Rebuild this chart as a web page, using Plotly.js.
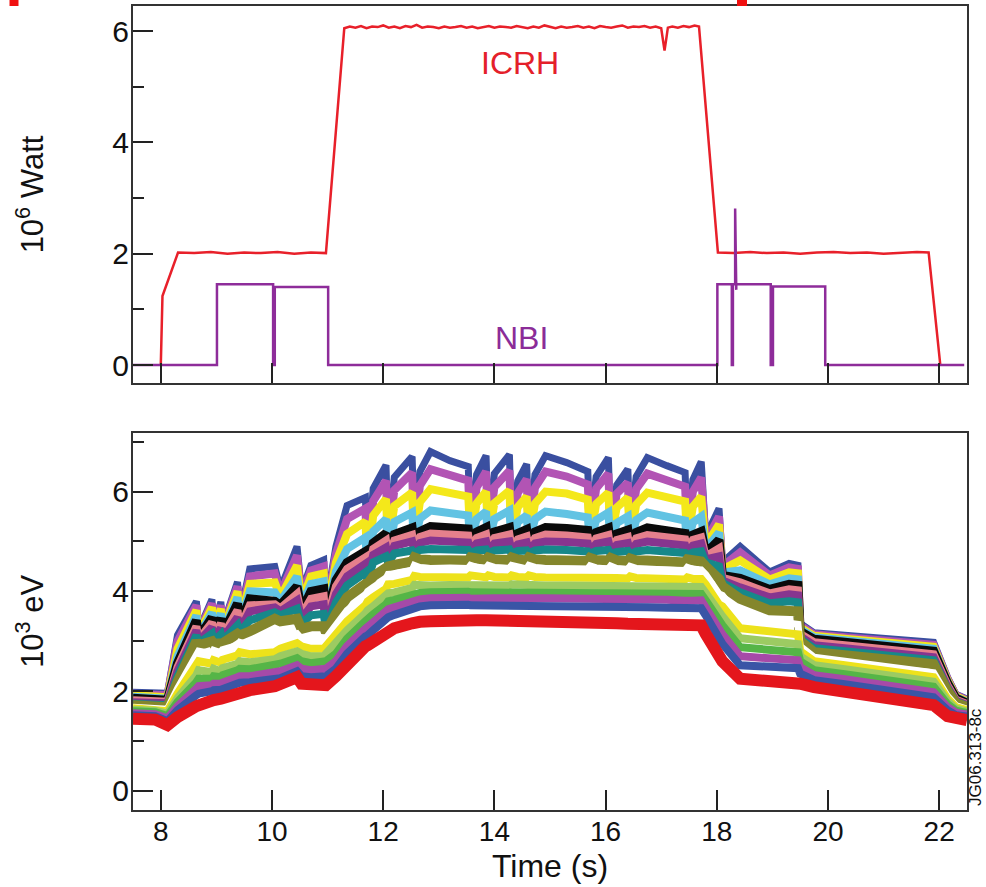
<!DOCTYPE html>
<html>
<head>
<meta charset="utf-8">
<script src="https://cdn.plot.ly/plotly-3.0.1.min.js"></script>
<style>html,body{margin:0;padding:0;background:#fff;}#chart{width:986px;height:887px;}</style>
</head>
<body>
<div id="chart"></div>
<script>
// ---------- Top panel: heating power (10^6 W) ----------
const ICRH_t = [8.00,8.03,8.31,8.6,8.9,9.2,9.5,9.8,10.1,10.4,10.7,10.97,
  11.3,11.4,11.5,11.6,11.7,11.8,11.9,12.0,12.1,12.2,
  12.3,12.4,12.5,12.6,12.7,12.8,12.9,13.0,13.1,13.2,
  13.3,13.4,13.5,13.6,13.7,13.8,13.9,14.0,14.1,14.2,
  14.3,14.4,14.5,14.6,14.7,14.8,14.9,15.0,15.1,15.2,
  15.3,15.4,15.5,15.6,15.7,15.8,15.9,16.0,16.1,16.2,
  16.3,16.4,16.5,16.6,16.7,16.8,16.9,17.0,
  17.03,17.06,17.09,17.12,
  17.2,17.3,17.4,17.5,17.6,17.68,
  18.02,18.3,18.6,18.9,19.2,19.5,19.8,20.1,20.4,20.7,21.0,21.3,21.6,
  21.81,22.02];
const ICRH_v = [0,1.24,2.02,2.01,2.03,2.00,2.02,2.01,2.03,2.00,2.02,2.01,
  6.05,6.08,6.06,6.09,6.05,6.08,6.07,6.10,6.06,6.08,
  6.05,6.09,6.07,6.11,6.06,6.08,6.07,6.05,6.08,6.06,
  6.07,6.09,6.06,6.08,6.05,6.07,6.09,6.06,6.08,6.07,
  6.06,6.09,6.07,6.05,6.08,6.06,6.10,6.07,6.05,6.08,
  6.06,6.07,6.09,6.06,6.08,6.05,6.09,6.07,6.06,6.08,
  6.10,6.06,6.08,6.07,6.09,6.06,6.08,6.05,
  5.80,5.65,5.85,6.06,
  6.08,6.06,6.09,6.07,6.10,6.08,
  2.02,2.01,2.03,2.01,2.02,2.00,2.02,2.03,2.01,2.02,2.00,2.02,2.03,
  2.02,0];

const NBI_t = [7.5,9.01,9.01,10.02,10.02,10.05,10.05,11.01,11.01,18.01,18.01,18.27,18.27,18.29,18.29,18.33,18.33,18.35,18.35,18.97,18.97,19.01,19.01,19.95,19.95,22.45];
const NBI_v = [0,0,1.45,1.45,0,0,1.40,1.40,0,0,1.45,1.45,0,0,1.45,1.45,2.81,1.35,1.45,1.45,0,0,1.41,1.41,0,0];

// ---------- Bottom panel: electron temperature channels (10^3 eV) ----------
const T = [7.5,7.9,8.12,8.3,8.64,8.68,8.92,8.95,9.08,9.11,
  9.38,9.42,9.6,10.05,10.15,10.45,10.53,10.7,10.93,10.97,
  11.15,11.35,11.68,11.72,11.82,12.05,12.09,12.2,12.52,12.56,
  12.66,12.85,13.2,13.53,13.57,13.68,13.85,13.89,14.0,14.27,
  14.31,14.42,14.58,14.62,14.73,14.92,15.3,15.68,15.72,15.83,
  16.05,16.09,16.2,16.4,16.44,16.55,16.75,17.1,17.43,17.47,
  17.57,17.72,17.8,18.04,18.1,18.42,18.95,19.3,19.46,19.5,
  19.75,20.3,20.9,21.5,21.9,22.15,22.3,22.5];

const te_red = [1.45,1.43,1.32,1.48,1.70,1.72,1.80,1.82,1.85,1.86,
  1.98,2.00,2.02,2.10,2.15,2.28,2.15,2.15,2.12,2.12,
  2.30,2.55,2.90,2.92,3.00,3.20,3.22,3.26,3.36,3.38,
  3.39,3.40,3.43,3.42,3.42,3.42,3.42,3.42,3.42,3.42,
  3.42,3.42,3.42,3.42,3.42,3.42,3.40,3.38,3.38,3.37,
  3.36,3.36,3.36,3.35,3.35,3.35,3.34,3.33,3.30,3.30,
  3.31,3.32,3.15,2.70,2.60,2.25,2.22,2.20,2.18,2.15,
  2.08,2.00,1.90,1.80,1.72,1.50,1.44,1.42];
const te_blue = [1.52,1.50,1.40,1.62,1.92,1.95,2.00,2.02,2.03,2.04,
  2.15,2.17,2.18,2.22,2.26,2.40,2.30,2.28,2.28,2.30,
  2.45,2.75,3.10,3.12,3.22,3.45,3.48,3.53,3.66,3.68,
  3.70,3.72,3.74,3.73,3.72,3.72,3.72,3.72,3.72,3.72,
  3.72,3.72,3.72,3.72,3.72,3.72,3.72,3.70,3.70,3.70,
  3.70,3.70,3.69,3.68,3.68,3.68,3.68,3.67,3.65,3.65,
  3.65,3.66,3.52,3.02,2.95,2.52,2.50,2.48,2.46,2.35,
  2.22,2.14,2.05,1.96,1.88,1.62,1.52,1.49];
const te_magenta = [1.56,1.54,1.45,1.70,2.05,2.10,2.12,2.15,2.15,2.17,
  2.28,2.30,2.30,2.36,2.40,2.52,2.45,2.42,2.42,2.45,
  2.60,2.90,3.25,3.28,3.38,3.60,3.64,3.68,3.80,3.83,
  3.84,3.86,3.88,3.87,3.85,3.86,3.86,3.85,3.86,3.86,
  3.85,3.86,3.86,3.85,3.86,3.86,3.86,3.85,3.84,3.85,
  3.85,3.84,3.84,3.84,3.83,3.84,3.84,3.83,3.81,3.80,
  3.81,3.82,3.68,3.20,3.14,2.70,2.66,2.64,2.62,2.48,
  2.32,2.24,2.15,2.06,1.98,1.68,1.57,1.53];
const te_green = [1.60,1.58,1.50,1.78,2.18,2.25,2.25,2.30,2.28,2.32,
  2.42,2.45,2.44,2.50,2.55,2.66,2.60,2.56,2.56,2.60,
  2.75,3.05,3.40,3.45,3.54,3.74,3.80,3.83,3.93,3.97,
  3.97,3.98,4.00,3.99,3.98,3.98,3.98,3.98,3.98,3.98,
  3.98,3.98,3.98,3.98,3.98,3.98,3.98,3.97,3.97,3.97,
  3.97,3.97,3.96,3.96,3.96,3.96,3.96,3.95,3.94,3.94,
  3.94,3.95,3.82,3.38,3.32,2.88,2.82,2.80,2.78,2.60,
  2.42,2.34,2.25,2.17,2.09,1.74,1.61,1.56];
const te_lightgreen = [1.63,1.61,1.55,1.86,2.32,2.42,2.38,2.45,2.40,2.46,
  2.55,2.60,2.58,2.64,2.70,2.80,2.75,2.70,2.70,2.75,
  2.92,3.22,3.56,3.62,3.70,3.88,3.96,3.98,4.07,4.13,
  4.12,4.12,4.13,4.12,4.14,4.13,4.12,4.14,4.13,4.12,
  4.14,4.13,4.12,4.14,4.13,4.12,4.12,4.11,4.13,4.12,
  4.11,4.13,4.11,4.10,4.12,4.11,4.10,4.09,4.08,4.10,
  4.09,4.09,3.97,3.55,3.50,3.06,2.98,2.96,2.94,2.70,
  2.52,2.44,2.35,2.27,2.19,1.80,1.65,1.59];
const te_yellow = [1.66,1.64,1.60,1.95,2.48,2.60,2.55,2.62,2.57,2.63,
  2.72,2.78,2.74,2.78,2.85,2.96,2.90,2.85,2.85,2.90,
  3.10,3.40,3.72,3.80,3.88,4.05,4.14,4.15,4.23,4.31,
  4.29,4.28,4.29,4.28,4.32,4.29,4.28,4.32,4.29,4.28,
  4.32,4.29,4.28,4.32,4.29,4.28,4.28,4.27,4.31,4.28,
  4.27,4.31,4.27,4.26,4.30,4.27,4.26,4.25,4.24,4.28,
  4.25,4.25,4.14,3.74,3.70,3.26,3.18,3.16,3.14,2.80,
  2.60,2.52,2.44,2.36,2.28,1.85,1.68,1.62];
const te_white = [1.68,1.66,1.64,2.05,2.70,2.80,2.75,2.82,2.77,2.83,
  2.92,2.98,2.92,3.00,3.05,3.15,3.05,3.02,3.02,3.06,
  3.30,3.62,3.92,4.00,4.08,4.25,4.34,4.35,4.42,4.52,
  4.48,4.46,4.47,4.46,4.52,4.48,4.46,4.52,4.48,4.46,
  4.52,4.48,4.45,4.52,4.48,4.46,4.46,4.45,4.51,4.47,
  4.45,4.51,4.46,4.44,4.50,4.46,4.44,4.43,4.42,4.48,
  4.44,4.43,4.34,3.95,3.92,3.46,3.38,3.36,3.34,2.90,
  2.68,2.60,2.52,2.45,2.37,1.90,1.71,1.64];
const te_olive = [1.72,1.70,1.68,2.18,3.00,2.92,3.00,2.95,3.00,2.96,
  3.15,3.12,3.20,3.45,3.40,3.45,3.25,3.30,3.30,3.18,
  3.55,3.88,4.15,4.15,4.30,4.48,4.50,4.53,4.60,4.68,
  4.64,4.63,4.63,4.62,4.68,4.64,4.63,4.68,4.64,4.63,
  4.68,4.64,4.62,4.68,4.64,4.63,4.62,4.61,4.67,4.63,
  4.62,4.67,4.62,4.61,4.66,4.62,4.62,4.60,4.58,4.64,
  4.61,4.60,4.50,4.25,4.10,3.85,3.62,3.62,3.60,3.00,
  2.78,2.72,2.66,2.60,2.54,2.00,1.76,1.68];
const te_teal = [1.75,1.73,1.72,2.30,3.12,2.96,3.15,3.00,3.14,3.01,
  3.32,3.18,3.42,3.58,3.52,3.65,3.35,3.52,3.55,3.24,
  3.78,4.12,4.38,4.22,4.58,4.70,4.58,4.76,4.82,4.76,
  4.83,4.85,4.84,4.83,4.76,4.82,4.84,4.76,4.82,4.84,
  4.76,4.81,4.82,4.76,4.82,4.84,4.83,4.80,4.75,4.81,
  4.83,4.75,4.79,4.81,4.74,4.80,4.83,4.80,4.77,4.72,
  4.78,4.80,4.58,4.50,4.17,3.98,3.76,3.80,3.78,3.05,
  2.86,2.80,2.74,2.68,2.62,2.05,1.79,1.70];
const te_purple = [1.78,1.76,1.76,2.40,3.22,3.00,3.28,3.04,3.26,3.05,
  3.48,3.22,3.60,3.68,3.60,3.82,3.45,3.70,3.74,3.30,
  3.95,4.30,4.55,4.28,4.73,4.88,4.64,4.91,5.00,4.82,
  4.97,5.02,5.00,4.98,4.82,4.96,5.00,4.82,4.96,5.00,
  4.82,4.94,4.98,4.82,4.96,5.00,4.99,4.96,4.81,4.95,
  5.00,4.81,4.93,4.97,4.80,4.95,5.00,4.96,4.92,4.78,
  4.92,4.96,4.64,4.70,4.22,4.08,3.88,3.94,3.92,3.10,
  2.92,2.86,2.80,2.74,2.68,2.08,1.81,1.72];
const te_pink = [1.82,1.80,1.79,2.48,3.30,3.03,3.38,3.08,3.36,3.09,
  3.62,3.26,3.72,3.74,3.66,3.95,3.52,3.85,3.90,3.36,
  4.10,4.45,4.68,4.34,4.85,5.02,4.70,5.02,5.13,4.87,
  5.09,5.16,5.14,5.12,4.87,5.07,5.14,4.87,5.07,5.14,
  4.87,5.04,5.10,4.87,5.07,5.14,5.12,5.08,4.86,5.06,
  5.13,4.86,5.03,5.09,4.85,5.06,5.13,5.09,5.04,4.83,
  5.03,5.08,4.70,4.86,4.27,4.18,3.96,4.04,4.02,3.15,
  2.98,2.92,2.86,2.80,2.74,2.12,1.83,1.74];
const te_black = [1.86,1.84,1.82,2.56,3.42,3.06,3.48,3.12,3.46,3.13,
  3.76,3.30,3.85,3.80,3.72,4.10,3.60,4.00,4.05,3.42,
  4.22,4.58,4.80,4.40,4.97,5.16,4.76,5.14,5.27,4.92,
  5.20,5.30,5.28,5.25,4.92,5.19,5.28,4.92,5.19,5.28,
  4.92,5.16,5.24,4.92,5.19,5.28,5.26,5.22,4.91,5.18,
  5.27,4.91,5.15,5.23,4.90,5.18,5.27,5.22,5.16,4.88,
  5.13,5.20,4.76,5.03,4.32,4.26,4.04,4.14,4.12,3.20,
  3.04,2.98,2.92,2.86,2.80,2.16,1.86,1.76];
const te_lightblue = [1.89,1.87,1.85,2.70,3.52,3.10,3.58,3.16,3.56,3.17,
  3.88,3.35,4.00,3.98,3.80,4.30,3.70,4.15,4.20,3.48,
  4.40,4.85,5.08,4.46,5.20,5.45,4.82,5.39,5.58,4.98,
  5.46,5.62,5.58,5.52,4.98,5.45,5.60,4.98,5.45,5.62,
  4.98,5.39,5.52,4.98,5.45,5.60,5.55,5.48,4.97,5.43,
  5.58,4.97,5.37,5.50,4.96,5.43,5.58,5.50,5.42,4.94,
  5.38,5.50,4.84,5.18,4.38,4.42,4.14,4.26,4.24,3.24,
  3.08,3.02,2.96,2.90,2.85,2.19,1.88,1.78];
const te_yellow2 = [1.92,1.90,1.88,2.85,3.62,3.14,3.68,3.20,3.65,3.21,
  4.00,3.40,4.15,4.18,3.88,4.52,3.80,4.30,4.36,3.55,
  4.58,5.15,5.40,4.52,5.52,5.85,4.90,5.71,5.98,5.05,
  5.79,6.05,5.98,5.90,5.05,5.76,6.00,5.05,5.77,6.02,
  5.05,5.69,5.90,5.05,5.76,6.00,5.96,5.84,5.04,5.75,
  5.98,5.04,5.68,5.88,5.03,5.74,5.98,5.90,5.80,5.01,
  5.70,5.90,4.92,5.34,4.44,4.62,4.24,4.38,4.36,3.28,
  3.11,3.05,2.99,2.93,2.89,2.22,1.90,1.80];
const te_magenta2 = [1.95,1.93,1.92,3.00,3.72,3.18,3.76,3.24,3.72,3.25,
  4.10,3.45,4.30,4.36,3.96,4.72,3.90,4.42,4.50,3.62,
  4.75,5.45,5.66,4.58,5.81,6.22,4.98,6.03,6.38,5.12,
  6.12,6.45,6.32,6.22,5.12,6.08,6.40,5.12,6.09,6.42,
  5.12,5.97,6.25,5.12,6.08,6.40,6.30,6.14,5.11,6.06,
  6.36,5.11,5.96,6.18,5.10,6.05,6.36,6.24,6.10,5.08,
  6.00,6.28,5.00,5.50,4.50,4.78,4.32,4.48,4.45,3.32,
  3.14,3.08,3.02,2.96,2.93,2.25,1.92,1.82];
const te_topblue = [1.98,1.96,1.96,3.12,3.80,3.22,3.84,3.28,3.79,3.30,
  4.19,3.50,4.45,4.50,4.05,4.90,4.00,4.52,4.63,3.70,
  4.90,5.72,5.88,4.65,6.06,6.53,5.06,6.29,6.70,5.20,
  6.40,6.80,6.62,6.50,5.20,6.34,6.72,5.20,6.36,6.74,
  5.20,6.21,6.55,5.20,6.34,6.72,6.58,6.40,5.19,6.30,
  6.68,5.19,6.13,6.45,5.18,6.30,6.68,6.52,6.38,5.16,
  6.24,6.60,5.10,5.66,4.58,4.90,4.39,4.56,4.52,3.36,
  3.17,3.12,3.06,3.00,2.98,2.28,1.94,1.84];

const channels = [te_red, te_blue, te_magenta, te_green, te_lightgreen, te_yellow, te_white, te_olive,
  te_teal, te_purple, te_pink, te_black, te_lightblue, te_yellow2, te_magenta2, te_topblue];
const chColors = ['#E4161C','#3A55A6','#A64AA8','#55B547','#9CCB62','#EDE21B','#FFFFFF','#84862C',
  '#16888A','#87358F','#E5808C','#0A0A0A','#62C3E3','#F4E81A','#B254B4','#3A4FA0'];
const chWidths = [12,8,8,8,8,8,7,10,8,8,8,9,8,8,8,7];

channels.forEach((c,i)=>{ if (c.length !== T.length) throw new Error('channel '+i+' length '+c.length+' != '+T.length); });
if (ICRH_t.length !== ICRH_v.length) throw new Error('ICRH length mismatch '+ICRH_t.length+' '+ICRH_v.length);
if (NBI_t.length !== NBI_v.length) throw new Error('NBI length mismatch');

const FONT = 'Liberation Sans, Arial, Helvetica, sans-serif';
const traces = [];
traces.push({x: ICRH_t, y: ICRH_v, xaxis:'x', yaxis:'y', mode:'lines', line:{color:'#E8202A', width:2.5}, name:'ICRH'});
traces.push({x: NBI_t, y: NBI_v, xaxis:'x', yaxis:'y', mode:'lines', line:{color:'#8E2C9A', width:2.5}, name:'NBI'});
// draw from the core (top) channel down to the edge (red) channel
for (let i = channels.length - 1; i >= 0; i--) {
  traces.push({x: T, y: channels[i], xaxis:'x2', yaxis:'y2', mode:'lines',
    line:{color: chColors[i], width: chWidths[i]}, name:'ch'+i});
}

const axCommon = {
  showline:true, linecolor:'#333', linewidth:2, mirror:true, showgrid:false, zeroline:false,
  ticks:'inside', ticklen:20, tickwidth:2, tickcolor:'#222'
};
const layout = {
  width:986, height:887,
  margin:{l:133, r:19, t:6, b:77},
  paper_bgcolor:'#fff', plot_bgcolor:'#fff',
  showlegend:false, hovermode:false,
  font:{family:FONT, color:'#111'},
  xaxis: Object.assign({}, axCommon, {domain:[0,1], anchor:'y', range:[7.5,22.5], tick0:0, dtick:2, showticklabels:false}),
  yaxis: Object.assign({}, axCommon, {domain:[0.5311,1], anchor:'x', range:[-0.323,6.449], tick0:0, dtick:2,
    tickfont:{size:30, family:FONT, color:'#111'}, ticklabelstandoff:-4,
    minor:{ticks:'inside', ticklen:11, tickwidth:2, tickcolor:'#222', dtick:1, tick0:0},
    title:{text:'10<sup>6</sup> Watt', font:{size:31, family:FONT, color:'#111'}, standoff:59}}),
  xaxis2: Object.assign({}, axCommon, {domain:[0,1], anchor:'y2', range:[7.5,22.5], tick0:0, dtick:2,
    tickfont:{size:28, family:FONT, color:'#111'}, ticklabelstandoff:-5,
    title:{text:'Time (s)', font:{size:32, family:FONT, color:'#111'}, standoff:9}}),
  yaxis2: Object.assign({}, axCommon, {domain:[0,0.4693], anchor:'x2', range:[-0.381,7.18], tick0:0, dtick:2,
    tickfont:{size:30, family:FONT, color:'#111'}, ticklabelstandoff:-4,
    minor:{ticks:'inside', ticklen:11, tickwidth:2, tickcolor:'#222', dtick:1, tick0:0},
    title:{text:'10<sup>3</sup> eV', font:{size:31, family:FONT, color:'#111'}, standoff:59}}),
  annotations:[
    {xref:'x', yref:'y', x:14.46, y:5.42, text:'ICRH', showarrow:false, font:{size:32, family:FONT, color:'#E4202A'}},
    {xref:'x', yref:'y', x:14.49, y:0.485, text:'NBI', showarrow:false, font:{size:32, family:FONT, color:'#8B2C98'}},
    {xref:'paper', yref:'paper', x:(975-133)/834, y:(810-757)/804, xanchor:'center', yanchor:'middle',
     text:'JG06.313-8c', textangle:-90, showarrow:false, font:{size:17, family:FONT, color:'#111'}}
  ],
  shapes:[
    {type:'rect', xref:'paper', yref:'paper', x0:(9.5-133)/834, x1:(18.5-133)/834, y0:(810-6)/804, y1:(816)/804, fillcolor:'#F01010', line:{width:0}},
    {type:'rect', xref:'paper', yref:'paper', x0:(737-133)/834, x1:(747-133)/834, y0:(810-6)/804, y1:(816)/804, fillcolor:'#F01010', line:{width:0}}
  ]
};
Plotly.newPlot('chart', traces, layout, {displayModeBar:false, staticPlot:true});
</script>
</body>
</html>
